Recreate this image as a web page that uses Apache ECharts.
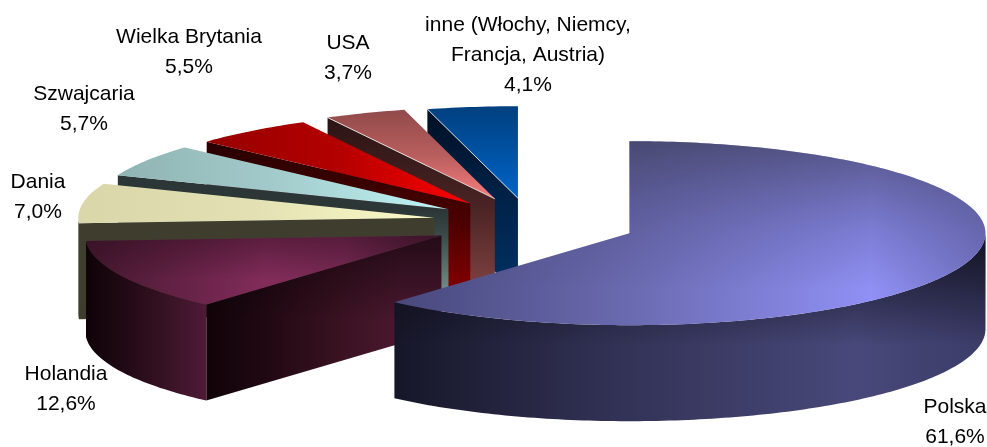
<!DOCTYPE html>
<html><head><meta charset="utf-8">
<style>html,body{margin:0;padding:0;background:#fff}#c{width:987px;height:447px}</style>
<script src="https://cdn.jsdelivr.net/npm/echarts@6/dist/echarts.min.js"></script>
</head><body><div id="c"></div>
<script>
const categories = ['Polska','Holandia','Dania','Szwajcaria','Wielka Brytania','USA','inne (Włochy, Niemcy,\nFrancja, Austria)'];
const shares = [61.6,12.6,7.0,5.7,5.5,3.7,4.1];

// layout
const C = {x:534,y:224}, R = {x:356,y:92}, DEPTH = 96, EXPL = {x:102,y:26};
const nudge = [[0,0],[-1,0],[1,-2],[1,-1],[-1,0],[-2,-1],[-3,0]];
const labelPos = [[955,407],[66,374],[38,182],[84,94],[189,37],[348,43],[528,25]];
// styles: top [x stops], top shade, cut face, wall
const H = (x1,x2,stops)=>({x1,y1:0,x2,y2:0,stops});
const V = (y1,y2,stops)=>({x1:0,y1,x2:0,y2,stops});
const styles = [
 {top:H(393,983,[[0,'#48487c'],[0.4,'#6a6ab0'],[0.81,'#9090f5'],[1,'#7272c2']]),
  shade:V(141,290,[[0,'rgba(60,60,90,.72)'],[0.62,'rgba(70,70,120,.25)'],[1,'rgba(70,70,120,0)']]),
  wall:H(391,985,[[0,'#161628'],[0.38,'#323256'],[0.78,'#48487a'],[1,'#3c3c69']]),
  wallShade:V(235,345,[[0,'rgba(10,10,20,.85)'],[1,'rgba(10,10,20,0)']])},
 {top:H(88,443,[[0,'#451830'],[0.5,'#822c5a'],[0.72,'#7a2a55'],[1,'#4a1a34']]),
  shade:V(235,280,[[0,'rgba(40,10,25,.45)'],[1,'rgba(40,10,25,0)']]),
  face:H(204,400,[[0,'#100408'],[0.3,'#1f0812'],[0.7,'#3a1222'],[1,'#4a1830']]),
  faceShade:V(235,320,[[0,'rgba(10,2,6,.6)'],[1,'rgba(10,2,6,0)']]),
  wall:H(88,204,[[0,'#0f0308'],[0.5,'#2c0e1c'],[1,'#4e1a36']])},
 {top:H(78,433,[[0,'#d9d7aa'],[0.5,'#e3e1b3'],[1,'#fbfbc8']]),
  face:H(78,433,[[0,'#3e3d2e'],[1,'#3e3d2e']]),
  wall:H(78,110,[[0,'#3e3d2e'],[1,'#3e3d2e']])},
 {top:H(119,447,[[0,'#90b3b3'],[0.5,'#a4cccc'],[1,'#bff5f8']]),
  face:V(210,290,[[0,'#2c3636'],[0.3,'#3a4848'],[1,'#6f8d88']]),
  wall:H(100,130,[[0,'#2c3636'],[1,'#2c3636']])},
 {top:H(207,472,[[0,'#960000'],[0.5,'#b40000'],[1,'#ff0000']]),
  face:V(140,300,[[0,'#280000'],[0.5,'#4a0000'],[1,'#8a0000']]),
  wall:H(200,220,[[0,'#280000'],[1,'#280000']])},
 {top:V(110,200,[[0,'#924a4a'],[0.5,'#b85e5e'],[1,'#fa7d7d']]),
  face:V(118,296,[[0,'#2c1414'],[0.5,'#4a2424'],[1,'#844444']]),
  wall:H(300,340,[[0,'#2c1414'],[1,'#2c1414']]), rimLine:true},
 {top:V(107,198,[[0,'#004080'],[1,'#0064c8']]),
  face:V(109,296,[[0,'#001024'],[0.5,'#00234a'],[1,'#003264']]),
  wall:H(400,440,[[0,'#001024'],[1,'#001024']]), rimLine:true}
];

const rad = d=>d*Math.PI/180;
const total = shares.reduce((a,s)=>a+s,0); // the printed shares add up to 100.2
const ranges = []; shares.reduce((a,s)=>{const b=a+s/total*360; ranges.push([a,b]); return b;},0);
const grad = g=>new echarts.graphic.LinearGradient(g.x1,g.y1,g.x2,g.y2,g.stops.map(s=>({offset:s[0],color:s[1]})),true);

function renderItem(params){
  const k = order[params.dataIndex];
  const [a,b] = ranges[k], st = styles[k], mid = rad((a+b)/2);
  const cx = C.x+EXPL.x*Math.sin(mid)+nudge[k][0], cy = C.y-EXPL.y*Math.cos(mid)+nudge[k][1];
  const pt = (d,dz=0)=>[cx+R.x*Math.sin(rad(d)), cy-R.y*Math.cos(rad(d))+dz];
  const arc = (p,q,dz=0)=>{const n=Math.max(2,Math.ceil((q-p)/1)),o=[];for(let j=0;j<=n;j++)o.push(pt(p+(q-p)*j/n,dz));return o;};
  const poly = (pts,fill)=>({type:'polygon',shape:{points:pts},style:{fill:fill,stroke:null},silent:true});
  const kids = [];
  if (st.face){
    const s = pt(a), face=[[cx,cy],s,[s[0],s[1]+DEPTH],[cx,cy+DEPTH]];
    kids.push(poly(face,grad(st.face)));
    if (st.faceShade) kids.push(poly(face,grad(st.faceShade)));
  }
  const w0=Math.max(a,90), w1=Math.min(b,270);
  if (w1>w0){
    const wall = arc(w0,w1).concat(arc(w0,w1,DEPTH).reverse());
    kids.push(poly(wall,grad(st.wall)));
    if (st.wallShade) kids.push(poly(wall,grad(st.wallShade)));
  }
  const top = [[cx,cy]].concat(arc(a,b));
  kids.push(poly(top,grad(st.top)));
  if (st.shade) kids.push(poly(top,grad(st.shade)));
  if (st.rimLine){
    const s=pt(a);
    kids.push({type:'line',shape:{x1:cx,y1:cy,x2:s[0],y2:s[1]},style:{stroke:'rgba(255,255,255,.75)',lineWidth:1},silent:true});
  }
  const txt = categories[k]+'\n'+shares[k].toFixed(1).replace('.',',')+'%';
  kids.push({type:'text',x:labelPos[k][0],y:labelPos[k][1]-15,z2:100,silent:true,
    style:{text:txt,fill:'#000',font:'21px "Liberation Sans", Arial, sans-serif',lineHeight:30,align:'center',verticalAlign:'top'}});
  return {type:'group',children:kids};
}
const order = shares.map((_,i)=>shares.length-1-i); // back-to-front painting
const chart = echarts.init(document.getElementById('c'),null,{renderer:'canvas'});
chart.setOption({
  animation:false,
  backgroundColor:'#fff',
  series:[{type:'custom',coordinateSystem:'none',renderItem:renderItem,clip:false,silent:true,
    data:order.map(k=>({name:categories[k],value:shares[k]}))}]
});
</script></body></html>
